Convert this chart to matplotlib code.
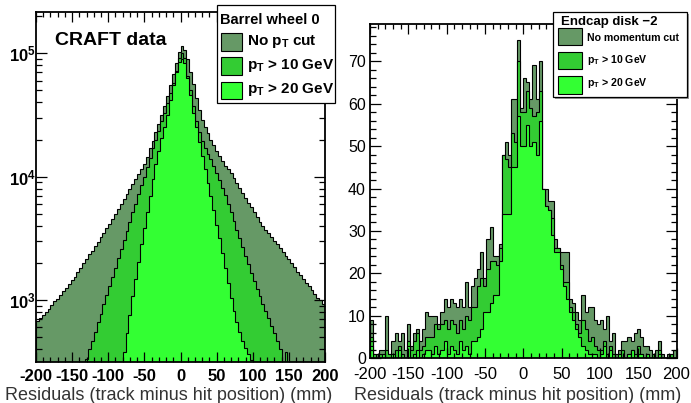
import numpy as np
import matplotlib
matplotlib.use("Agg")
import matplotlib.pyplot as plt
from matplotlib.patches import Rectangle
from matplotlib.ticker import MultipleLocator, LogLocator, NullFormatter, FuncFormatter

plt.rcParams['font.family'] = ['Liberation Sans', 'DejaVu Sans']
plt.rcParams['mathtext.fontset'] = 'custom'
plt.rcParams['mathtext.rm'] = 'Liberation Sans'
plt.rcParams['mathtext.bf'] = 'Liberation Sans:bold'
plt.rcParams['mathtext.it'] = 'Liberation Sans:italic'
plt.rcParams['axes.unicode_minus'] = False

# bins: 100 bins of 4 mm from -200 to 200
bin_edges = np.arange(-200, 201, 4)

# ---- Barrel wheel 0 (log scale) ----
barrel_no_cut = [
    676, 708, 759, 794, 851, 912, 977, 1023, 1096, 1175,
    1259, 1349, 1445, 1549, 1698, 1820, 1995, 2138, 2344, 2512,
    2754, 2951, 3236, 3467, 3802, 4169, 4571, 5012, 5495, 6026,
    6607, 7244, 7943, 8710, 9550, 10471, 11482, 12589, 14454, 16982,
    19498, 22909, 26915, 31623, 37154, 44668, 54954, 67608, 83176, 102329,
    114815, 107152, 89125, 70795, 56234, 43652, 34674, 28840, 25119, 22387,
    19953, 18197, 16218, 14791, 13490, 12303, 11482, 10715, 9772, 8913,
    8128, 7413, 6761, 6166, 5623, 5129, 4677, 4266, 3981, 3715,
    3467, 3236, 3020, 2818, 2630, 2455, 2291, 2138, 1995, 1862,
    1698, 1585, 1479, 1380, 1288, 1202, 1122, 1047, 1000, 933]
barrel_pt10 = [
    20, 24, 28, 33, 39, 45, 52, 62, 72, 85,
    100, 115, 135, 158, 186, 214, 251, 331, 398, 468,
    550, 661, 776, 933, 1096, 1288, 1549, 1820, 2188, 2570,
    3090, 3631, 4266, 5129, 6026, 7244, 8511, 10000, 12023, 14125,
    16982, 19953, 23442, 28184, 33113, 39811, 47863, 57544, 72444, 91201,
    100000, 91201, 66069, 50119, 37154, 28184, 22909, 19498, 16982, 15136,
    13804, 12303, 10715, 9333, 8128, 7079, 6026, 5129, 4365, 3715,
    3162, 2692, 2291, 1950, 1660, 1413, 1230, 1072, 933, 813,
    708, 617, 537, 468, 398, 295, 380, 263, 240, 209,
    182, 155, 135, 115, 100, 87, 74, 65, 55, 48]
barrel_pt20 = [
    10, 11, 12, 13, 14, 15, 17, 18, 20, 22,
    24, 27, 30, 33, 37, 41, 45, 50, 56, 62,
    70, 80, 92, 105, 120, 140, 165, 195, 224, 282,
    380, 537, 759, 1072, 1479, 2042, 2818, 3802, 5129, 6918,
    9550, 12589, 16218, 20417, 25119, 31623, 41687, 54954, 70795, 85114,
    89125, 83176, 63096, 45709, 33113, 25119, 19055, 14791, 11482, 8913,
    6918, 5370, 4074, 3162, 2399, 1820, 1380, 1047, 813, 661,
    550, 468, 407, 363, 324, 251, 200, 170, 150, 130,
    115, 100, 90, 80, 70, 62, 55, 50, 45, 40,
    36, 32, 29, 26, 23, 21, 19, 17, 15, 14]

# ---- Endcap disk -2 (linear scale) ----
endcap_no_cut = [
    9, 1, 1, 2, 2, 10, 1, 4, 6, 4, 6, 2, 8, 3, 6, 7, 4, 7, 11, 10, 10, 10, 8, 11, 14,
    12, 14, 13, 12, 14, 12, 18, 12, 17, 19, 21, 25, 19, 28, 31, 24, 24, 27, 48, 51, 48, 61, 61, 75, 59,
    66, 65, 61, 69, 61, 70, 40, 40, 37, 37, 28, 26, 25, 25, 25, 14, 13, 11, 9, 15, 11, 12, 12, 9, 8,
    9, 7, 10, 4, 6, 1, 2, 4, 4, 5, 4, 6, 7, 5, 3, 3, 2, 1, 2, 4, 1, 0, 1, 1, 2]
endcap_pt10 = [
    5, 1, 0, 1, 0, 2, 1, 0, 2, 3, 1, 0, 4, 2, 4, 6, 2, 3, 5, 5, 5, 8, 7, 8, 9,
    7, 9, 8, 6, 9, 7, 10, 9, 12, 12, 17, 19, 17, 21, 23, 23, 22, 26, 48, 47, 45, 53, 51, 70, 58,
    58, 63, 59, 57, 58, 63, 40, 36, 35, 33, 26, 26, 22, 18, 18, 12, 11, 8, 6, 9, 7, 4, 5, 3, 2,
    2, 4, 1, 3, 1, 0, 1, 2, 0, 1, 2, 1, 3, 1, 0, 1, 0, 1, 0, 2, 0, 0, 0, 1, 0]
endcap_pt20 = [
    3, 0, 0, 0, 1, 0, 0, 1, 0, 2, 0, 0, 3, 0, 1, 2, 0, 1, 2, 2, 1, 3, 1, 2, 4,
    1, 3, 2, 1, 4, 2, 3, 1, 4, 4, 5, 7, 11, 11, 13, 15, 15, 23, 34, 34, 34, 45, 45, 57, 50,
    50, 55, 50, 51, 48, 56, 40, 36, 35, 29, 25, 25, 21, 17, 14, 11, 9, 7, 5, 3, 2, 1, 1, 1, 0,
    1, 3, 0, 2, 0, 0, 1, 0, 0, 1, 2, 0, 1, 1, 0, 1, 0, 0, 0, 1, 0, 0, 0, 0, 0]

colors = ['#669966', '#33cc33', '#33ff33']
xlabel = 'Residuals (track minus hit position) (mm)'
W, H = 691, 403


def fx(px):
    return px / W


def fy(py):
    return 1 - py / H


def draw_legend(fig, box, title, title_pos, title_size, labels, sw_x, rows, text_x, baselines, size, shadow=False):
    x0, y0, x1, y1 = box
    if shadow:
        fig.add_artist(Rectangle((fx(x0 + 2), fy(y1 + 2)), fx(x1 - x0), (y1 - y0) / H,
                                 transform=fig.transFigure, facecolor='#999999',
                                 edgecolor='none', zorder=9))
    fig.add_artist(Rectangle((fx(x0), fy(y1)), fx(x1 - x0), (y1 - y0) / H,
                             transform=fig.transFigure, facecolor='white',
                             edgecolor='black', linewidth=0.9, zorder=10))
    fig.text(fx(title_pos[0]), fy(title_pos[1]), title, fontsize=title_size,
             fontweight='bold', va='baseline', ha='left', zorder=11)
    for lab, col, (ra, rb), bl in zip(labels, colors, rows, baselines):
        fig.add_artist(Rectangle((fx(sw_x[0]), fy(rb)), fx(sw_x[1] - sw_x[0]), (rb - ra) / H,
                                 transform=fig.transFigure, facecolor=col,
                                 edgecolor='black', linewidth=0.8, zorder=11))
        fig.text(fx(text_x), fy(bl), lab, fontsize=size, fontweight='bold',
                 va='baseline', ha='left', zorder=11)


def style_axes(ax):
    for s in ax.spines.values():
        s.set_linewidth(1.3)
    ax.tick_params(which='both', direction='in', top=True, right=True, width=0.9)
    ax.tick_params(axis='x', which='major', length=7, pad=5)
    ax.tick_params(axis='x', which='minor', length=3.5)
    ax.tick_params(axis='y', which='major', length=8)
    ax.tick_params(axis='y', which='minor', length=4)


fig = plt.figure(figsize=(W / 100, H / 100), dpi=100)

# left panel
ax1 = fig.add_axes([fx(36), 41.3 / H, fx(289), 349.4 / H])
for vals, col in zip([barrel_no_cut, barrel_pt10, barrel_pt20], colors):
    ax1.stairs(vals, bin_edges, baseline=1, fill=True, facecolor=col,
               edgecolor='black', linewidth=0.8)
ax1.set_yscale('log')
ax1.set_xlim(-200, 200)
ax1.set_ylim(316, 2.15e5)
xt = list(range(-200, 201, 50))
ax1.set_xticks(xt, labels=[str(t) for t in xt], fontweight='bold', fontsize=12)
ax1.xaxis.set_minor_locator(MultipleLocator(10))
ax1.yaxis.set_major_locator(LogLocator(base=10, numticks=10))
ax1.yaxis.set_minor_locator(LogLocator(base=10, subs=np.arange(2, 10), numticks=20))
ax1.yaxis.set_minor_formatter(NullFormatter())
ax1.yaxis.set_major_formatter(FuncFormatter(lambda v, p: r'$\mathbf{10^{%d}}$' % round(np.log10(v))))
style_axes(ax1)
ax1.tick_params(axis='y', labelsize=12, pad=0)
ax1.text(0.066, 0.906, 'CRAFT data', transform=ax1.transAxes, fontsize=14,
         fontweight='bold', va='baseline')

# right panel
ax2 = fig.add_axes([fx(370), 44.7 / H, fx(306.5), 334 / H])
for vals, col in zip([endcap_no_cut, endcap_pt10, endcap_pt20], colors):
    ax2.stairs(vals, bin_edges, baseline=0, fill=True, facecolor=col,
               edgecolor='black', linewidth=0.8)
ax2.set_xlim(-200, 200)
ax2.set_ylim(0, 78.7)
ax2.set_xticks(xt, labels=[str(t) for t in xt], fontsize=12)
ax2.xaxis.set_minor_locator(MultipleLocator(10))
ax2.yaxis.set_major_locator(MultipleLocator(10))
ax2.yaxis.set_minor_locator(MultipleLocator(2))
style_axes(ax2)
ax2.tick_params(axis='x', which='major', pad=6.5)
ax2.tick_params(axis='y', labelsize=11.5, pad=3)

fig.text(fx(169), fy(395), xlabel, fontsize=13, color='#333333', ha='center', va='center')
fig.text(fx(517.5), fy(395), xlabel, fontsize=13, color='#333333', ha='center', va='center')

draw_legend(fig, (216.7, 5, 335, 103), 'Barrel wheel 0', (220, 24), 10.5,
            [r'No $\mathbf{p_T}$ cut', r'$\mathbf{p_T}$ > 10 GeV', r'$\mathbf{p_T}$ > 20 GeV'],
            (220.7, 241.7), [(33.3, 50.7), (57.3, 75), (81.7, 99.3)], 247,
            [45, 68.5, 92.5], 11)
draw_legend(fig, (553.3, 11.7, 687.3, 97.3), 'Endcap disk \u22122', (561, 24.5), 9.5,
            ['No momentum cut', r'$\mathbf{p_T}$ > 10 GeV', r'$\mathbf{p_T}$ > 20 GeV'],
            (558.3, 581.7), [(28.3, 45), (51.7, 69.3), (76, 94)], 586.7,
            [40.7, 63.3, 86], 7.6, shadow=True)

fig.savefig('out.png', dpi=100)
